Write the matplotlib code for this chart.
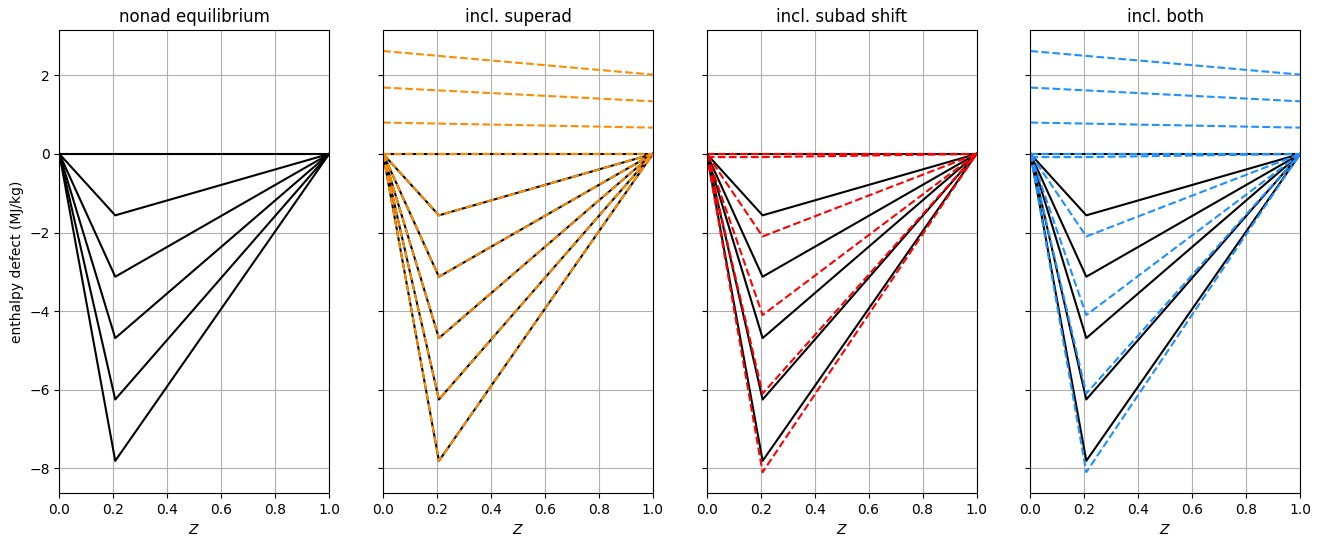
import matplotlib
matplotlib.use("Agg")
import matplotlib.pyplot as plt

# mixture fraction points: fuel side, stoichiometric kink, oxidiser side
z = [0.0, 0.207, 1.0]
z_ends = [0.0, 1.0]

# nonadiabatic enthalpy defect at the kink (MJ/kg)
nonad = [0.0, -1.5625, -3.125, -4.6875, -6.25, -7.8125]

# superadiabatic lines (value at Z=0, value at Z=1)
superad_start = [0.8, 1.69, 2.62]
superad_end = [0.67, 1.34, 2.02]

# subadiabatic shifted defects at the kink
subad = [0.0, -0.08, -2.1, -4.1, -6.1, -8.1]
subad_start = [0.0, -0.08, 0.0, 0.0, 0.0, 0.0]

titles = ["nonad equilibrium", "incl. superad", "incl. subad shift", "incl. both"]
colors = [None, "darkorange", "red", "dodgerblue"]

fig, axes = plt.subplots(1, 4, figsize=(13.2, 5.45), sharey=True)
fig.subplots_adjust(left=0.045, right=0.985, top=0.945, bottom=0.095, wspace=0.2)

for i, ax in enumerate(axes):
    for v in nonad:
        ax.plot(z, [0.0, v, 0.0], color="k", lw=1.5)

    c = colors[i]
    if i in (1, 3):
        for a, b in zip(superad_start, superad_end):
            ax.plot(z_ends, [a, b], "--", color=c, lw=1.5)
    if i == 1:
        for v in nonad:
            ax.plot(z, [0.0, v, 0.0], "--", color=c, lw=1.5)
    if i in (2, 3):
        for s, v in zip(subad_start, subad):
            ax.plot(z, [s, v, 0.0], "--", color=c, lw=1.5)

    ax.set_xlim(0, 1)
    ax.grid(True)
    ax.set_title(titles[i], fontsize=12)
    ax.set_xlabel("$Z$")

axes[0].set_ylabel("enthalpy defect (MJ/kg)")

fig.savefig("out.png", dpi=100)
